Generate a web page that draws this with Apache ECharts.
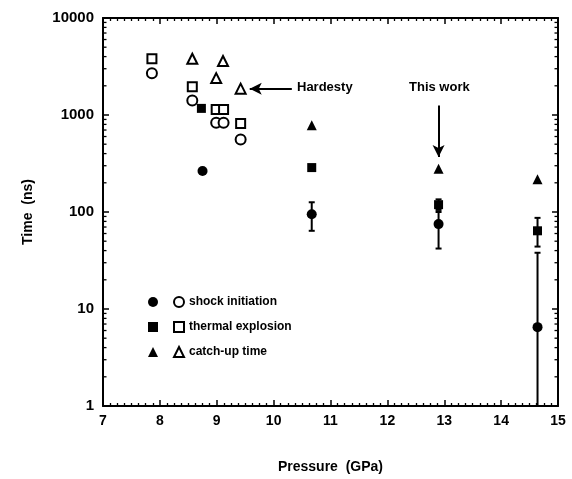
<!DOCTYPE html>
<html><head><meta charset="utf-8">
<script src="https://cdn.jsdelivr.net/npm/echarts@6/dist/echarts.min.js"></script>
<style>html,body{margin:0;padding:0;background:#fff}#c{width:572px;height:479px}</style>
</head><body><div id="c"></div>
<script>
// ---- data ----
var xTicks = [7, 8, 9, 10, 11, 12, 13, 14, 15];
var yTicks = [1, 10, 100, 1000, 10000];
// Hardesty (open symbols)
var hShock   = [[7.86, 2700], [8.57, 1410], [8.99, 830], [9.12, 830], [9.42, 560]];
var hThermal = [[7.86, 3800], [8.57, 1950], [8.99, 1140], [9.12, 1140], [9.42, 815]];
var hCatch   = [[8.57, 3800], [9.11, 3600], [8.99, 2400], [9.42, 1870]];
// This work (filled symbols)
var wShock   = [[8.75, 265], [10.67, 95], [12.9, 75], [14.64, 6.5]];
var wThermal = [[8.73, 1170], [10.67, 287], [12.9, 119], [14.64, 64]];
var wCatch   = [[10.67, 786], [12.9, 280], [14.64, 218]];
// error bars: [x, low, high]
var errBars  = [[10.67, 64, 126], [12.9, 42, 100], [12.9, 105, 135], [14.64, 44, 87], [14.64, 1, 38]];
var legendNames = ['shock initiation', 'thermal explosion', 'catch-up time'];

var minorVals = [];
for (var k = 0; k < 4; k++) for (var m = 2; m <= 9; m++) minorVals.push([7, m * Math.pow(10, k)]);

var FONT = 'Liberation Sans';
var NARROW = 'Liberation Sans Narrow, Liberation Sans';
var openStyle = {color: '#fff', borderColor: '#000', borderWidth: 2, opacity: 1};
var fillStyle = {color: '#000', borderColor: '#000', borderWidth: 0, opacity: 1};

var chart = echarts.init(document.getElementById('c'));
var axisCommon = {
  axisLine: {onZero: false, lineStyle: {color: '#000', width: 2}},
  axisTick: {inside: true, length: 6, lineStyle: {color: '#000', width: 1.5}},
  splitLine: {show: false}
};
chart.setOption({
  animation: false,
  backgroundColor: '#fff',
  grid: {left: 103, right: 14, top: 18, bottom: 69},
  xAxis: [
    Object.assign({}, axisCommon, {
      type: 'value', min: 7, max: 15, interval: 1, position: 'bottom',
      name: 'Pressure  (GPa)', nameLocation: 'middle', nameGap: 54,
      nameTextStyle: {fontFamily: FONT, fontWeight: 'bold', fontSize: 14, color: '#000'},
      axisLabel: {margin: 8, fontFamily: FONT, fontWeight: 'bold', fontSize: 14, color: '#000'},
      minorTick: {show: true, splitNumber: 8, length: 3, lineStyle: {color: '#000', width: 1.3}}
    }),
    Object.assign({}, axisCommon, {
      type: 'value', min: 7, max: 15, interval: 1, position: 'top',
      axisLabel: {show: false},
      minorTick: {show: true, splitNumber: 8, length: 3, lineStyle: {color: '#000', width: 1.3}}
    })
  ],
  yAxis: [
    Object.assign({}, axisCommon, {
      type: 'log', logBase: 10, min: 1, max: 10000, position: 'left',
      name: 'Time  (ns)', nameLocation: 'middle', nameGap: 68, nameRotate: 90,
      nameTextStyle: {fontFamily: FONT, fontWeight: 'bold', fontSize: 14, color: '#000'},
      axisLabel: {margin: 9, fontFamily: FONT, fontWeight: 'bold', fontSize: 15, color: '#000',
        formatter: function (v) { return String(Math.round(v)); }}
    }),
    Object.assign({}, axisCommon, {
      type: 'log', logBase: 10, min: 1, max: 10000, position: 'right',
      axisLabel: {show: false}
    })
  ],
  legend: [
    {left: 143, top: 290, orient: 'vertical', itemWidth: 10, itemHeight: 10, itemGap: 11,
     selectedMode: false, formatter: function () { return ' '; },
     textStyle: {fontSize: 12, lineHeight: 14, fontFamily: NARROW},
     data: [{name: 'wShock', icon: 'circle'}, {name: 'wThermal', icon: 'rect'}, {name: 'wCatch', icon: 'triangle'}]},
    {left: 168, top: 290, orient: 'vertical', itemWidth: 10, itemHeight: 10, itemGap: 11, itemTextGap: 10,
     selectedMode: false,
     textStyle: {fontSize: 12, lineHeight: 14, fontFamily: NARROW, fontWeight: 'bold', color: '#000'},
     data: [{name: legendNames[0], icon: 'circle'}, {name: legendNames[1], icon: 'rect'}, {name: legendNames[2], icon: 'triangle'}]}
  ],
  graphic: [
    {type: 'text', left: 297, top: 81, style: {text: 'Hardesty', font: 'bold 13px ' + NARROW, fill: '#000'}},
    {type: 'text', left: 409, top: 81, style: {text: 'This work', font: 'bold 13px ' + NARROW, fill: '#000'}}
  ],
  series: [
    {type: 'custom', name: 'minorTicks', silent: true, clip: false, data: minorVals,
     renderItem: function (params, api) {
       var v = api.value(1);
       var pl = api.coord([7, v]), pr = api.coord([15, v]);
       return {type: 'group', children: [
         {type: 'line', shape: {x1: pl[0], y1: pl[1], x2: pl[0] + 3.5, y2: pl[1]}, style: {stroke: '#000', lineWidth: 1.3}},
         {type: 'line', shape: {x1: pr[0], y1: pr[1], x2: pr[0] - 3.5, y2: pr[1]}, style: {stroke: '#000', lineWidth: 1.3}}
       ]};
     }},
    {type: 'custom', name: 'errors', silent: true, clip: false, data: errBars, z: 1,
     renderItem: function (params, api) {
       var x = api.value(0);
       var lo = api.coord([x, api.value(1)]), hi = api.coord([x, api.value(2)]);
       return {type: 'group', children: [
         {type: 'line', shape: {x1: lo[0], y1: lo[1], x2: hi[0], y2: hi[1]}, style: {stroke: '#000', lineWidth: 2}},
         {type: 'line', shape: {x1: lo[0] - 3, y1: lo[1], x2: lo[0] + 3, y2: lo[1]}, style: {stroke: '#000', lineWidth: 2}},
         {type: 'line', shape: {x1: hi[0] - 3, y1: hi[1], x2: hi[0] + 3, y2: hi[1]}, style: {stroke: '#000', lineWidth: 2}}
       ]};
     }},
    {type: 'scatter', name: legendNames[0], symbol: 'circle', symbolSize: 10, data: hShock, itemStyle: openStyle, z: 3},
    {type: 'scatter', name: legendNames[1], symbol: 'rect', symbolSize: 9, data: hThermal, itemStyle: openStyle, z: 3},
    {type: 'scatter', name: legendNames[2], symbol: 'triangle', symbolSize: 10, data: hCatch, itemStyle: openStyle, z: 3,
     markLine: {silent: true, symbol: ['none', 'arrow'], symbolSize: [9, 12], label: {show: false},
       lineStyle: {color: '#000', width: 2, type: 'solid', opacity: 1},
       data: [
         [{coord: [10.32, 1870]}, {coord: [9.58, 1870]}],
         [{coord: [12.9, 1250]}, {coord: [12.9, 370]}]
       ]}},
    {type: 'scatter', name: 'wShock', symbol: 'circle', symbolSize: 10, data: wShock, itemStyle: fillStyle, z: 4},
    {type: 'scatter', name: 'wThermal', symbol: 'rect', symbolSize: 9, data: wThermal, itemStyle: fillStyle, z: 4},
    {type: 'scatter', name: 'wCatch', symbol: 'triangle', symbolSize: 10, data: wCatch, itemStyle: fillStyle, z: 4}
  ]
});
</script></body></html>
